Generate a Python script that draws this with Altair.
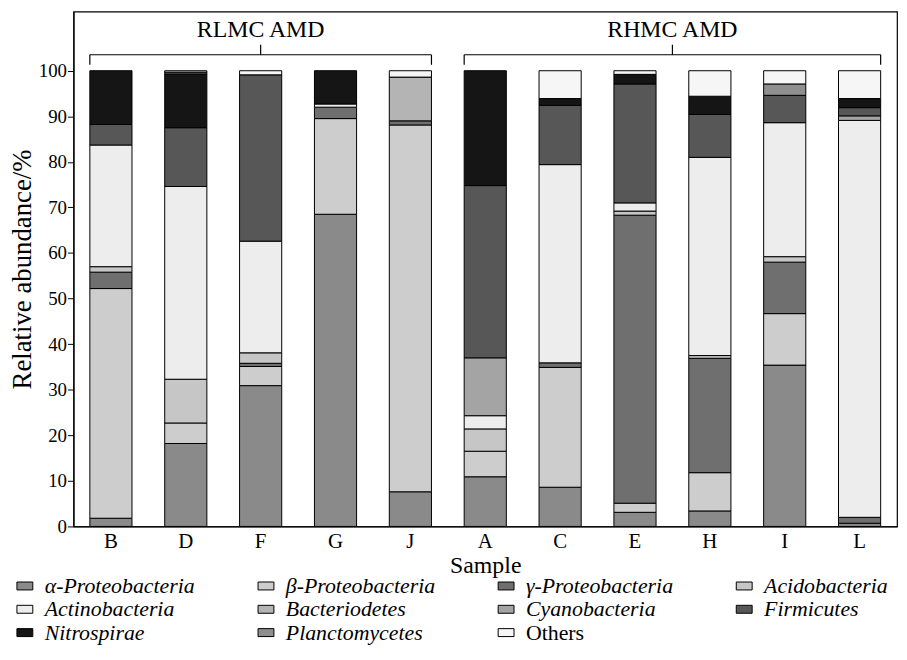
import altair as alt
import pandas as pd

# ---------------- data ----------------
samples = ["B", "D", "F", "G", "J", "A", "C", "E", "H", "I", "L"]
categories = [
    "α-Proteobacteria", "β-Proteobacteria", "γ-Proteobacteria", "Acidobacteria",
    "Actinobacteria", "Bacteriodetes", "Cyanobacteria", "Firmicutes",
    "Nitrospirae", "Planctomycetes", "Others",
]
# relative abundance (%) per sample, in the order of `samples`
alpha_proteo = [1.8, 18.2, 30.9, 68.5, 7.6, 10.9, 8.6, 3.1, 3.4, 35.4, 0.7]
beta_proteo = [50.4, 4.5, 4.2, 21.0, 80.5, 5.6, 26.3, 2.0, 8.4, 11.3, 0.0]
gamma_proteo = [3.6, 0.0, 0.7, 2.5, 0.9, 0.0, 1.0, 63.2, 25.1, 11.3, 1.3]
acidobacteria = [1.2, 9.6, 2.3, 0.0, 0.0, 4.9, 0.0, 0.9, 0.6, 1.2, 0.0]
actinobacteria = [26.7, 42.3, 24.5, 0.7, 0.0, 2.9, 43.5, 1.8, 43.5, 29.4, 87.1]
bacteriodetes = [0.0, 0.0, 0.0, 0.0, 9.6, 0.0, 0.0, 0.0, 0.0, 0.0, 0.0]
cyanobacteria = [0.0, 0.0, 0.0, 0.0, 0.0, 12.7, 0.0, 0.0, 0.0, 0.0, 1.0]
firmicutes = [4.5, 12.9, 36.5, 0.0, 0.0, 37.8, 13.0, 26.1, 9.4, 6.0, 1.8]
nitrospirae = [11.8, 11.8, 0.0, 7.3, 0.0, 25.2, 1.5, 2.1, 4.0, 0.0, 2.0]
planctomycetes = [0.0, 0.4, 0.0, 0.0, 0.0, 0.0, 0.0, 0.0, 0.0, 2.5, 0.0]
others = [0.0, 0.3, 0.9, 0.0, 1.4, 0.0, 6.1, 0.8, 5.6, 2.9, 6.1]

series = [alpha_proteo, beta_proteo, gamma_proteo, acidobacteria, actinobacteria,
          bacteriodetes, cyanobacteria, firmicutes, nitrospirae, planctomycetes, others]

group_names = ["RLMC AMD", "RHMC AMD"]
group_first = ["B", "A"]
group_last = ["J", "L"]
group_mid = ["F", "E"]

y_ticks = list(range(0, 101, 10))

# ---------------- style ----------------
FONT = "Liberation Serif, Times New Roman, serif"
fills = ["#8a8a8a", "#cdcdcd", "#6f6f6f", "#c6c6c6", "#ededed", "#b4b4b4",
         "#a4a4a4", "#575757", "#151515", "#8f8f8f", "#f6f6f6"]
W, H = 830, 519
P_IN = 0.437
STEP = W / len(samples)
BR_Y, BR_END, BR_TOP, LABEL_Y = 103.5, 101.3, 105.7, 108.9

rows = []
for ci, (cat, vals) in enumerate(zip(categories, series)):
    for s, v in zip(samples, vals):
        if v > 0:
            rows.append({"sample": s, "category": cat, "order": ci, "value": v})
df = pd.DataFrame(rows)

xscale = alt.Scale(domain=samples, paddingInner=P_IN, paddingOuter=P_IN / 2)
yscale = alt.Scale(domain=[0, 113], nice=False, zero=True)

x_axis = alt.Axis(title="Sample", labelAngle=0, ticks=False, labelFontSize=21,
                  labelPadding=4, titleFontSize=24, titlePadding=2)
y_axis = alt.Axis(title="Relative abundance/%", values=y_ticks, tickSize=6,
                  labelFontSize=19, labelPadding=1, titleFontSize=27, titlePadding=2)

bars = alt.Chart(df).mark_bar(stroke="black", strokeWidth=1, opacity=1).encode(
    x=alt.X("sample:N", scale=xscale, sort=samples, axis=x_axis),
    y=alt.Y("value:Q", stack="zero", scale=yscale, axis=y_axis),
    fill=alt.Fill("category:N", scale=alt.Scale(domain=categories, range=fills),
                  legend=alt.Legend(
                      title=None, orient="none", legendX=-60, legendY=568,
                      columns=4, direction="horizontal",
                      symbolType="M-1,-0.5H1V0.5H-1Z", symbolSize=256,
                      symbolStrokeColor="black", symbolStrokeWidth=1, symbolOpacity=1,
                      labelFont=FONT, labelFontSize=22,
                      labelFontStyle=alt.ExprRef(
                          "datum.label === 'Others' ? 'normal' : 'italic'"),
                      labelColor="black", labelOffset=9, labelLimit=300,
                      columnPadding=60, rowPadding=1.5, gridAlign="each")),
    order=alt.Order("order:Q", sort="ascending"),
)

gdf = pd.DataFrame({"group": group_names, "sample": group_first, "sample_end": group_last})
left_df = pd.DataFrame({"sample": group_first})
right_df = pd.DataFrame({"sample": group_last})

hline = alt.Chart(gdf).mark_rule(color="black", strokeWidth=1.2).encode(
    x=alt.X("sample:N", bandPosition=0, scale=xscale, sort=samples, axis=x_axis),
    x2=alt.X2("sample_end:N", bandPosition=1),
    y=alt.datum(BR_Y),
)
lend = alt.Chart(left_df).mark_rule(color="black", strokeWidth=1.2).encode(
    x=alt.X("sample:N", bandPosition=0, scale=xscale, sort=samples, axis=x_axis),
    y=alt.datum(BR_END), y2=alt.datum(BR_Y),
)
rend = alt.Chart(right_df).mark_rule(color="black", strokeWidth=1.2).encode(
    x=alt.X("sample:N", bandPosition=1, scale=xscale, sort=samples, axis=x_axis),
    y=alt.datum(BR_END), y2=alt.datum(BR_Y),
)

# centre of the first group is the middle bar; centre of the second lies half a step right of E
mid_offsets = [0.0, STEP / 2]
mid_layers = []
for name, mid, off in zip(group_names, group_mid, mid_offsets):
    mdf = pd.DataFrame({"sample": [mid], "label": [name]})
    tick = alt.Chart(mdf).mark_rule(color="black", strokeWidth=1.2, xOffset=off).encode(
        x=alt.X("sample:N", bandPosition=0.5, scale=xscale, sort=samples, axis=x_axis),
        y=alt.datum(BR_Y), y2=alt.datum(BR_TOP),
    )
    txt = alt.Chart(mdf).mark_text(font=FONT, fontSize=24, color="black", xOffset=off,
                                   baseline="middle", align="center").encode(
        x=alt.X("sample:N", bandPosition=0.5, scale=xscale, sort=samples, axis=x_axis),
        y=alt.datum(LABEL_Y),
        text="label:N",
    )
    mid_layers += [tick, txt]

chart = alt.layer(bars, hline, lend, rend, *mid_layers).properties(
    width=W, height=H,
    padding={"left": 66, "top": 1, "right": 2, "bottom": 120},
    autosize=alt.AutoSizeParams(type="none"),
).configure_view(stroke="black", strokeWidth=1.2).configure_axis(
    labelFont=FONT, titleFont=FONT, labelColor="black", titleColor="black",
    domainColor="black", tickColor="black", grid=False, titleFontWeight="normal",
    domainWidth=1.2,
).configure_legend(labelFont=FONT)

chart.save("out.html", embed_options={"renderer": "svg", "actions": False})
